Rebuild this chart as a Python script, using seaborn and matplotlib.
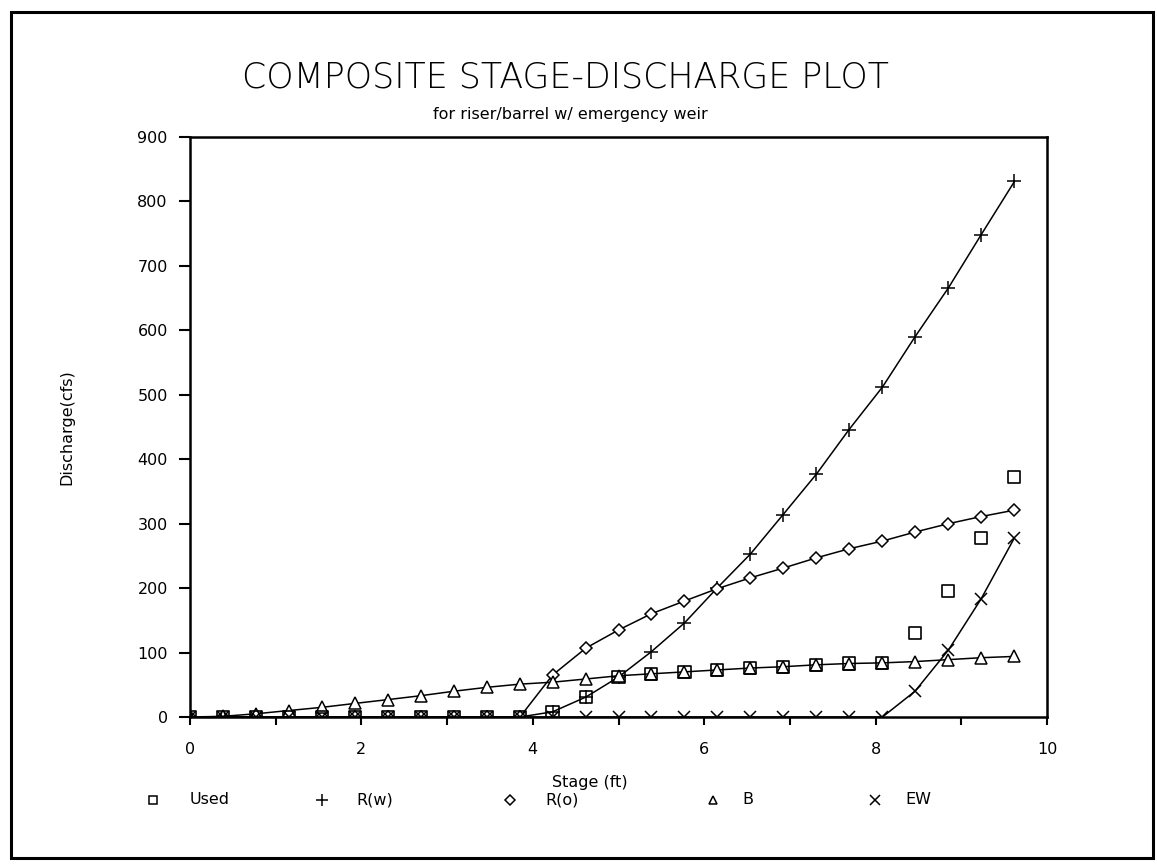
import matplotlib
matplotlib.use("Agg")
import matplotlib.pyplot as plt
from matplotlib.lines import Line2D
from matplotlib.patches import Rectangle
from matplotlib.ticker import MultipleLocator
import seaborn as sns

# ---- data ----
stage = [0.0, 0.38, 0.77, 1.15, 1.54, 1.92, 2.31, 2.69, 3.08, 3.46, 3.85,
         4.23, 4.62, 5.0, 5.38, 5.77, 6.15, 6.54, 6.92, 7.31, 7.69, 8.08,
         8.46, 8.85, 9.23, 9.62]
used = [0, 0, 0, 0, 0, 0, 0, 0, 0, 0, 0,
        8, 31, 62, 67, 70, 73, 76, 78, 81, 83, 84,
        130, 196, 278, 373]
r_w = [0, 0, 0, 0, 0, 0, 0, 0, 0, 0, 0,
       8, 31, 62, 101, 146, 200, 253, 314, 377, 446, 512,
       590, 666, 748, 831]
r_o = [0, 0, 0, 0, 0, 0, 0, 0, 0, 0, 0,
       65, 107, 135, 160, 180, 199, 216, 231, 247, 261, 273,
       287, 300, 311, 321]
b = [0, 1, 5, 10, 15, 21, 27, 33, 40, 46, 51,
     54, 59, 64, 67, 70, 73, 76, 78, 81, 83, 84,
     86, 89, 92, 94]
ew = [0, 0, 0, 0, 0, 0, 0, 0, 0, 0, 0,
      0, 0, 0, 0, 0, 0, 0, 0, 0, 0, 0,
      40, 104, 183, 278]

legend_labels = ["Used", "R(w)", "R(o)", "B", "EW"]
title = "COMPOSITE STAGE-DISCHARGE PLOT"
subtitle = "for riser/barrel w/ emergency weir"
xlabel = "Stage (ft)"
ylabel = "Discharge(cfs)"

sns.set_style("ticks")
plt.rcParams["font.family"] = ["DejaVu Sans"]
for key in ["text.color", "axes.labelcolor", "xtick.color", "ytick.color",
            "axes.edgecolor"]:
    plt.rcParams[key] = "black"

fig = plt.figure(figsize=(11.57, 8.64), dpi=100)
ax = fig.add_axes([190 / 1157, 1 - 717 / 864, 857 / 1157, 580 / 864])

lw = 1.1
ms = 8
common = dict(color="black", linewidth=lw, markeredgecolor="black",
              markeredgewidth=1.1)
sns.lineplot(x=stage, y=r_w, marker="+", markersize=ms + 2, ax=ax, **common)
sns.lineplot(x=stage, y=r_o, marker="D", markersize=ms - 1.5,
             markerfacecolor="white", ax=ax, **common)
sns.lineplot(x=stage, y=b, marker="^", markersize=ms,
             markerfacecolor="white", ax=ax, **common)
sns.lineplot(x=stage, y=ew, marker="x", markersize=ms, ax=ax, **common)
sns.scatterplot(x=stage, y=used, marker="s", s=75, facecolor="none",
                edgecolor="black", linewidth=1.2, ax=ax, zorder=5)

ax.set_xlim(0, 10)
ax.set_ylim(0, 900)
ax.xaxis.set_major_locator(MultipleLocator(2))
ax.xaxis.set_minor_locator(MultipleLocator(1))
ax.yaxis.set_major_locator(MultipleLocator(100))
for s in ax.spines.values():
    s.set_linewidth(1.8)
    s.set_color("black")
ax.tick_params(axis="y", which="major", direction="out", length=8, width=1.5,
               labelsize=11.5, pad=8, colors="black")
ax.tick_params(axis="x", which="both", direction="out", length=6, width=1.5,
               labelsize=11.5, pad=12, colors="black")
ax.set_xlabel(xlabel, fontsize=11.5, color="black")
ax.set_ylabel(ylabel, fontsize=11.5, color="black")
ax.xaxis.set_label_coords((590 - 190) / 857, -(783 - 717) / 580)
ax.yaxis.set_label_coords((67 - 190) / 857, 0.5)
ax.xaxis.label.set_va("center")
ax.yaxis.label.set_va("center")

fig.text(565 / 1157, 1 - 78 / 864, title, ha="center", va="center",
         fontsize=25, fontweight="light", color="black")
fig.text(570 / 1157, 1 - 115 / 864, subtitle, ha="center", va="center",
         fontsize=11.5, color="black")

# manual legend row
leg_y = 1 - 800 / 864
marker_x = [153, 322, 510, 713, 875]
text_x = [190, 356, 545, 742, 905]
markers = ["s", "+", "D", "^", "x"]
sizes = [6, 8, 5, 6, 7]
for mk, sz, mx, tx, lab in zip(markers, sizes, marker_x, text_x, legend_labels):
    fig.add_artist(Line2D([mx / 1157], [leg_y], marker=mk, markersize=sz,
                          markerfacecolor="none", markeredgecolor="black",
                          markeredgewidth=1.1, linestyle="none",
                          transform=fig.transFigure))
    fig.text(tx / 1157, leg_y, lab, ha="left", va="center", fontsize=11.5,
             color="black")

fig.add_artist(Rectangle((11 / 1157, 6 / 864), 1142 / 1157, 846 / 864,
                         transform=fig.transFigure, fill=False,
                         edgecolor="black", linewidth=2.2))

fig.savefig("out.png", dpi=100, facecolor="white")
